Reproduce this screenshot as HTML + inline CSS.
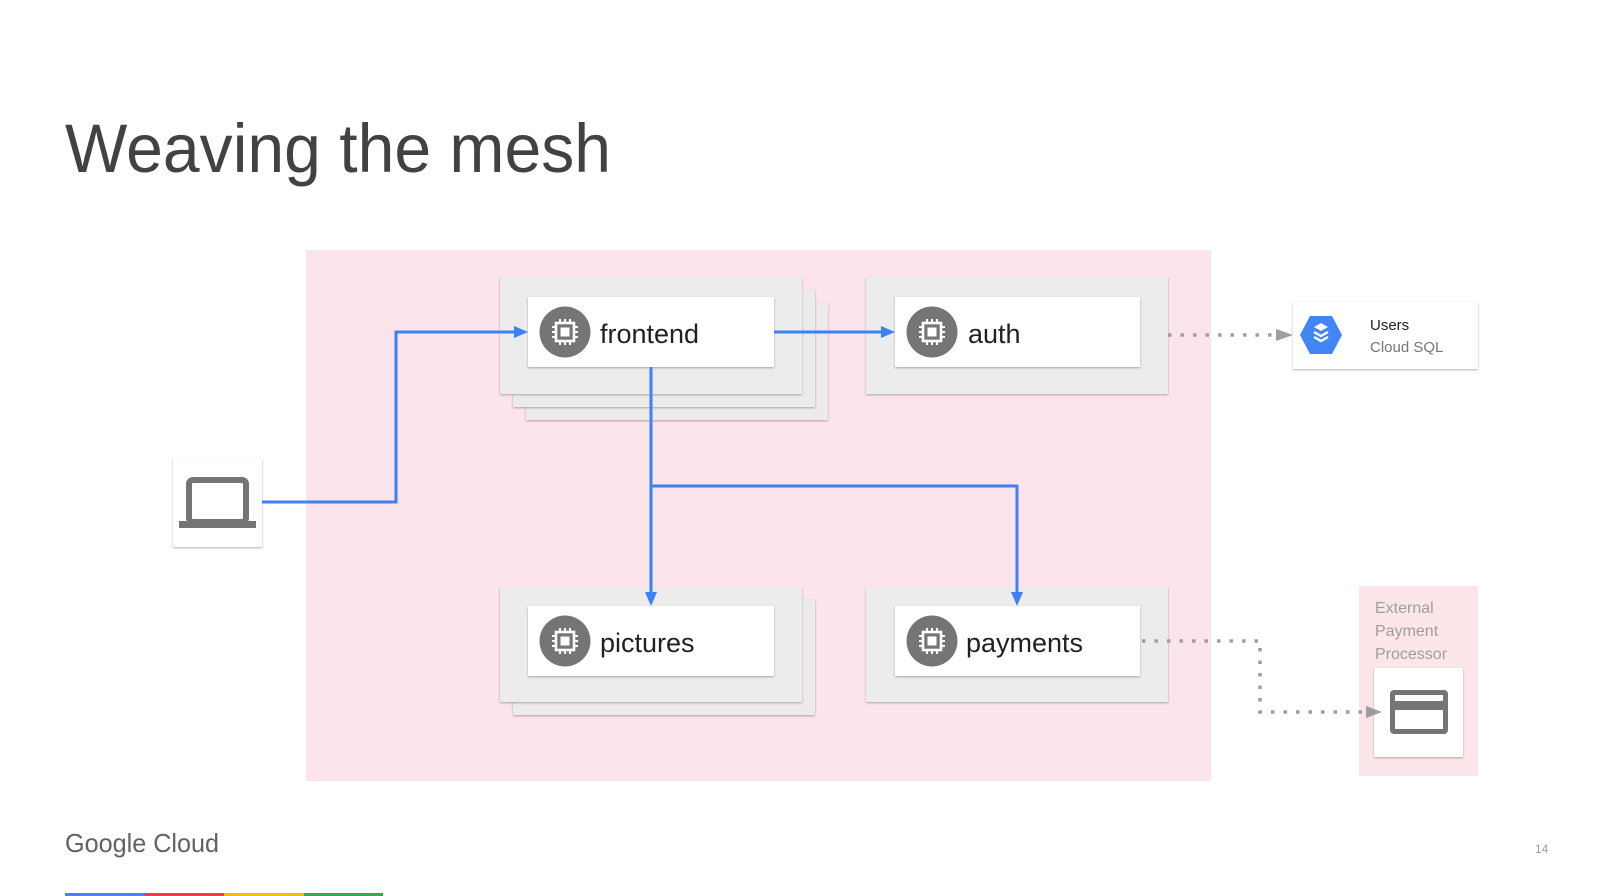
<!DOCTYPE html>
<html><head><meta charset="utf-8"><style>
html,body{margin:0;padding:0;background:#fff;}
svg{display:block;}
text{font-family:"Liberation Sans",sans-serif;}
</style></head><body>
<svg width="1600" height="896" viewBox="0 0 1600 896" xmlns="http://www.w3.org/2000/svg">
<defs>
<filter id="sh" x="-5%" y="-5%" width="110%" height="115%"><feDropShadow dx="0" dy="1" stdDeviation="1" flood-color="#000" flood-opacity="0.3"/></filter>
<g id="chip">
<circle r="25.5" fill="#757575"/>
<rect x="-9" y="-9" width="18" height="18" fill="none" stroke="#fff" stroke-width="2.6"/>
<rect x="-4.5" y="-4.5" width="9" height="9" fill="#fff"/>
<g stroke="#fff" stroke-width="2">
<line x1="-5" y1="-9" x2="-5" y2="-13"/><line x1="0" y1="-9" x2="0" y2="-13"/><line x1="5" y1="-9" x2="5" y2="-13"/>
<line x1="-5" y1="9" x2="-5" y2="13"/><line x1="0" y1="9" x2="0" y2="13"/><line x1="5" y1="9" x2="5" y2="13"/>
<line y1="-5" x1="-9" y2="-5" x2="-13"/><line y1="0" x1="-9" y2="0" x2="-13"/><line y1="5" x1="-9" y2="5" x2="-13"/>
<line y1="-5" x1="9" y2="-5" x2="13"/><line y1="0" x1="9" y2="0" x2="13"/><line y1="5" x1="9" y2="5" x2="13"/>
</g>
</g>
</defs>

<text x="65" y="172" font-size="69" fill="#424242" textLength="546" lengthAdjust="spacingAndGlyphs">Weaving the mesh</text>

<rect x="306" y="250" width="905" height="531" fill="#fce4ec"/>

<!-- frontend stack -->
<rect x="526" y="303" width="302" height="117" fill="#ecebea" filter="url(#sh)"/>
<rect x="513" y="290" width="302" height="117" fill="#ecebea" filter="url(#sh)"/>
<rect x="500" y="277" width="302" height="117" fill="#ececec" filter="url(#sh)"/>
<rect x="528" y="297" width="246" height="70" fill="#fff" filter="url(#sh)"/>
<use href="#chip" x="565" y="332"/>
<text x="600" y="343" font-size="27" fill="#212121">frontend</text>

<!-- auth -->
<rect x="866" y="277" width="302" height="117" fill="#ececec" filter="url(#sh)"/>
<rect x="895" y="297" width="245" height="70" fill="#fff" filter="url(#sh)"/>
<use href="#chip" x="932" y="332"/>
<text x="968" y="343" font-size="27" fill="#212121">auth</text>

<!-- pictures -->
<rect x="513" y="600" width="302" height="115" fill="#ecebea" filter="url(#sh)"/>
<rect x="500" y="587" width="302" height="115" fill="#ececec" filter="url(#sh)"/>
<rect x="528" y="606" width="246" height="70" fill="#fff" filter="url(#sh)"/>
<use href="#chip" x="565" y="641"/>
<text x="600" y="652" font-size="27" fill="#212121">pictures</text>

<!-- payments -->
<rect x="866" y="587" width="302" height="115" fill="#ececec" filter="url(#sh)"/>
<rect x="895" y="606" width="245" height="70" fill="#fff" filter="url(#sh)"/>
<use href="#chip" x="932" y="641"/>
<text x="966" y="652" font-size="27" fill="#212121">payments</text>

<!-- laptop -->
<rect x="173" y="458" width="89" height="89" fill="#fff" filter="url(#sh)"/>
<rect x="189" y="480" width="57" height="42" rx="4" fill="none" stroke="#757575" stroke-width="6"/>
<rect x="179" y="521" width="77" height="7" fill="#757575"/>

<!-- blue connectors -->
<g stroke="#3d82f4" stroke-width="3" fill="none">
<polyline points="262,502 396,502 396,332 518,332"/>
<line x1="774" y1="332" x2="888" y2="332"/>
<line x1="651" y1="367" x2="651" y2="596"/>
<polyline points="651,486 1017,486 1017,596"/>
</g>
<g fill="#3d82f4">
<polygon points="528,332 514,326 514,338"/>
<polygon points="895,332 881,326 881,338"/>
<polygon points="651,606 645,592 657,592"/>
<polygon points="1017,606 1011,592 1023,592"/>
</g>

<!-- Users Cloud SQL -->
<rect x="1293" y="302" width="185" height="67" fill="#fff" filter="url(#sh)"/>
<polygon points="1300,335 1310,316 1332,316 1342,335 1332,354 1310,354" fill="#4285f4"/>
<polygon points="1321,323 1328,327 1321,331 1314,327" fill="#fff"/>
<path d="M1314,332 l7,4 7,-4 M1314,337 l7,4 7,-4" stroke="#fff" stroke-width="2.4" fill="none"/>
<text x="1370" y="330" font-size="15" fill="#212121">Users</text>
<text x="1370" y="352" font-size="15" fill="#757575">Cloud SQL</text>
<line x1="1168" y1="335" x2="1282" y2="335" stroke="#9e9e9e" stroke-width="3.5" stroke-dasharray="3.5,9"/>
<polygon points="1293,335 1276,329 1276,341" fill="#9e9e9e"/>

<!-- External payment -->
<rect x="1359" y="586" width="119" height="190" fill="#fde6ea"/>
<text font-size="16" fill="#9e9e9e"><tspan x="1375" y="613">External</tspan><tspan x="1375" y="636">Payment</tspan><tspan x="1375" y="659">Processor</tspan></text>
<rect x="1374" y="668" width="89" height="89" fill="#fff" filter="url(#sh)"/>
<rect x="1390" y="690" width="58" height="44" rx="4" fill="#757575"/>
<rect x="1395" y="695" width="48" height="6" fill="#fff"/>
<rect x="1395" y="710" width="48" height="19" fill="#fff"/>
<polyline points="1142,641 1260,641 1260,712 1368,712" fill="none" stroke="#9e9e9e" stroke-width="3.5" stroke-dasharray="3.5,9"/>
<polygon points="1382,712 1366,706 1366,718" fill="#9e9e9e"/>

<!-- footer -->
<text x="65" y="852" font-size="26" fill="#5f6368" textLength="154" lengthAdjust="spacingAndGlyphs">Google Cloud</text>
<text x="1535" y="853" font-size="12" fill="#9e9e9e">14</text>
<rect x="65" y="893" width="80" height="3" fill="#4285f4"/>
<rect x="145" y="893" width="79" height="3" fill="#ea4335"/>
<rect x="224" y="893" width="80" height="3" fill="#fbbc04"/>
<rect x="304" y="893" width="79" height="3" fill="#34a853"/>
</svg>
</body></html>
